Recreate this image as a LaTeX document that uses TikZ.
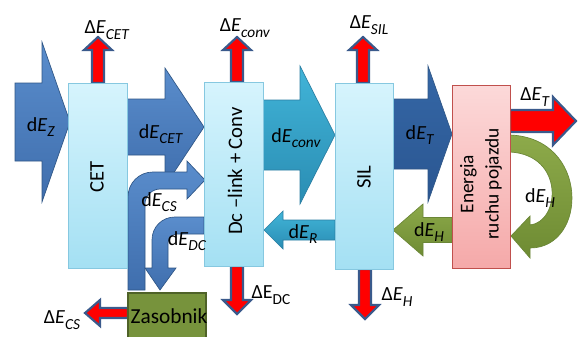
\documentclass[tikz,border=0pt]{standalone}
\usepackage{fontspec}
\setmainfont{Carlito}
\usetikzlibrary{fit,calc}
\newcommand\sbs[1]{\raisebox{-0.28em}{\fontsize{11.5}{12}\selectfont #1}}
\newcommand\dEl[1]{d\textit{E}\sbs{\textit{#1}}}
\newcommand\DEl[1]{Δ\textit{E}\sbs{\textit{#1}}}
% vertical block arrow: cx, y0, ybase, ytip, shaft half, head half
\newcommand\varrow[6]{(#1-#5,#2) -- (#1-#5,#3) -- (#1-#6,#3) -- (#1,#4) -- (#1+#6,#3) -- (#1+#5,#3) -- (#1+#5,#2) -- cycle}
% horizontal block arrow: cy, x0, xbase, xtip, body half, head half
\newcommand\harrow[6]{(#2,#1-#5) -- (#3,#1-#5) -- (#3,#1-#6) -- (#4,#1) -- (#3,#1+#6) -- (#3,#1+#5) -- (#2,#1+#5) -- cycle}
\definecolor{cyantop}{HTML}{D6F4FD}
\definecolor{cyanbot}{HTML}{A4E0F3}
\definecolor{cyanline}{HTML}{86C8E0}
\definecolor{pinktop}{HTML}{FCD9D9}
\definecolor{pinkbot}{HTML}{F5A9A9}
\definecolor{pinkline}{HTML}{C0504D}
\definecolor{olive}{HTML}{77933C}
\definecolor{oliveline}{HTML}{4F6228}
\definecolor{bluetop}{HTML}{5A8DCC}
\definecolor{bluebot}{HTML}{3F6EAD}
\definecolor{blueline}{HTML}{2F5686}
\definecolor{dbluetop}{HTML}{3567A6}
\definecolor{dbluebot}{HTML}{2A5691}
\definecolor{tealtop}{HTML}{41B4D8}
\definecolor{tealbot}{HTML}{2A8DB3}
\definecolor{tealline}{HTML}{2B7FA3}
\definecolor{greentop}{HTML}{8DAA4A}
\definecolor{greenbot}{HTML}{6E8B33}
\definecolor{greenline}{HTML}{6A8636}
\definecolor{redline}{HTML}{3A5A8C}
\begin{document}
\begin{tikzpicture}[x=0.75pt,y=-0.75pt,
  cbox/.style={draw=cyanline, line width=0.6pt, top color=cyantop, bottom color=cyanbot, inner sep=0pt},
  pbox/.style={draw=pinkline, line width=0.6pt, top color=pinktop, bottom color=pinkbot, inner sep=0pt},
  zbox/.style={draw=oliveline, line width=1.5pt, fill=olive, inner sep=0pt},
  bluearr/.style={draw=blueline, line width=0.5pt, top color=bluetop, bottom color=bluebot},
  dbluearr/.style={draw=blueline, line width=0.5pt, top color=dbluetop, bottom color=dbluebot},
  tealarr/.style={draw=tealline, line width=0.5pt, top color=tealtop, bottom color=tealbot},
  greenarr/.style={draw=greenline, line width=0.5pt, top color=greentop, bottom color=greenbot},
  redarr/.style={draw=redline, line width=1.6pt, fill=red, line join=miter},
  lbl/.style={font=\fontsize{15}{16}\selectfont, inner sep=0pt},
  btxt/.style={font=\fontsize{15.5}{19}\selectfont, rotate=90, align=center, inner sep=0pt}]
\useasboundingbox (0,0) rectangle (578,336);
\fill[white] (0,0) rectangle (578,336);

% big flow arrows
\path[bluearr] \harrow{122}{15}{42}{70}{39}{80};
\path[bluearr] \harrow{127}{127}{165}{204}{28}{59};
\path[tealarr] \harrow{135}{263}{300}{335}{35}{69};
\path[dbluearr] \harrow{134}{392}{428}{452}{35}{68};
\path[tealarr] \harrow{230}{335}{283}{264}{10}{19};
\path[greenarr] \harrow{230}{452}{423}{393}{12.5}{26};

% curved green dE_H
\path[greenarr] (510,135) .. controls (590,138) and (588,248) .. (530,248)
  -- (530,258) -- (511,236) -- (530,216) -- (530,225)
  .. controls (560,222) and (565,155) .. (510,152) -- cycle;

% curved blue dE_CS (from storage up and right)
\path[bluearr] (128,290) -- (128,197) .. controls (128,183) and (139,172) .. (153,172)
  -- (187,172) -- (187,161) -- (205,180) -- (187,199) -- (187,189) -- (160,189)
  .. controls (152,189) and (145,196) .. (145,204) -- (145,290) -- cycle;

% curved blue dE_DC (from Dc-link down to storage)
\path[bluearr] (204,217) -- (175,217) .. controls (162,217) and (152,227) .. (152,240)
  -- (152,268) -- (145,268) -- (160,290) -- (176,268) -- (168,268) -- (168,243)
  .. controls (168,238) and (172,234) .. (177,234) -- (204,234) -- cycle;

% red loss arrows
\path[redarr] \varrow{98}{83}{50}{37}{6}{14};
\path[redarr] \varrow{237}{82}{50}{37}{6}{14};
\path[redarr] \varrow{363}{83}{50}{37}{6}{14};
\path[redarr] \varrow{237}{266}{300}{314}{6}{14};
\path[redarr] \varrow{365}{269}{305}{319}{6}{14};
\path[redarr] \harrow{313}{128}{100}{85}{5}{13};
\path[redarr] \harrow{121}{510}{553}{576}{11}{24};

% boxes
\node[cbox, fit={(68,83) (127,268)}] (cet) {};
\node[cbox, fit={(204,82) (263,266)}] (dc) {};
\node[cbox, fit={(335,83) (393,269)}] (sil) {};
\node[pbox, fit={(452,85) (510,268)}] (ruch) {};
\node[zbox, fit={(128,293) (206,342)}] (zas) {};

\node[btxt] (cettxt) at (97,177) {CET};
\node[btxt] (dctxt) at (235,171) {Dc –link + Conv};
\node[btxt] (siltxt) at (364,177) {SIL};
\node[btxt, font=\fontsize{14.5}{19}\selectfont] (ruchtxt) at (481,184) {Energia\\ruchu pojazdu};
\node[font=\fontsize{16}{18}\selectfont, inner sep=0pt] (zastxt) at (169,316) {Zasobnik};

% labels
\node[lbl] (lz) at (41,127) {\dEl{Z}};
\node[lbl] (lcet) at (161,134) {\dEl{CET}};
\node[lbl] (lconv) at (296,138) {\dEl{conv}};
\node[lbl] (lt) at (420,135) {\dEl{T}};
\node[lbl] (lr) at (303,234) {\dEl{R}};
\node[lbl] (lh1) at (429,232) {\dEl{H}};
\node[lbl] (lh2) at (540,198) {\dEl{H}};
\node[lbl] (lcs) at (159,202) {\dEl{CS}};
\node[lbl] (ldc) at (187,241) {\dEl{DC}};
\node[lbl] (Lcet) at (107,30) {\DEl{CET}};
\node[lbl] (Lconv) at (245,28) {\DEl{conv}};
\node[lbl] (Lsil) at (369,25) {\DEl{SIL}};
\node[lbl] (Lt) at (535,97) {\DEl{T}};
\node[lbl] (Ldc) at (271,295) {ΔE\sbs{DC}};
\node[lbl] (Lh) at (397,297) {\DEl{H}};
\node[lbl] (Lcs) at (62,320) {\DEl{CS}};
\end{tikzpicture}
\end{document}
